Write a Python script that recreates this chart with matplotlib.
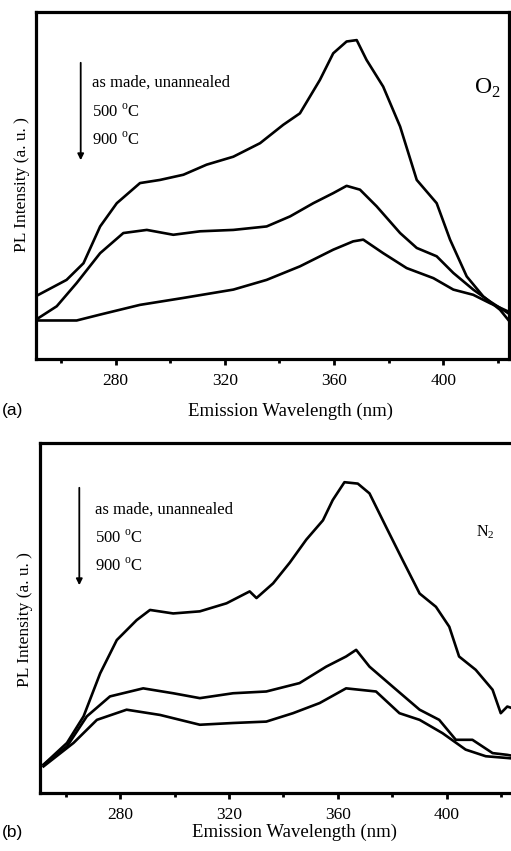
import numpy as np
import matplotlib
matplotlib.use("Agg")
import matplotlib.pyplot as plt

plt.rcParams['font.family'] = ['Liberation Serif', 'DejaVu Serif']
plt.rcParams['mathtext.fontset'] = 'custom'
plt.rcParams['mathtext.rm'] = 'Liberation Serif'

# --- panel (a): O2 anneal ---------------------------------------------------
a_made_x = [251.7, 262, 268.2, 274.3, 280.4, 288.9, 296.2, 304.8, 313.3, 323.1, 332.9,
            341.4, 347.5, 354.8, 359.7, 364.6, 368.3, 371.9, 378, 384.2, 390.3, 397.6,
            402.5, 408.6, 414.7, 420.8, 423.8]
a_made_y = [0.185, 0.228, 0.276, 0.382, 0.449, 0.507, 0.516, 0.531, 0.56, 0.583, 0.622,
            0.675, 0.708, 0.804, 0.881, 0.915, 0.919, 0.862, 0.785, 0.670, 0.516, 0.449,
            0.344, 0.238, 0.180, 0.142, 0.113]
a_500_x = [251.7, 258.4, 265.7, 274.3, 282.8, 291.4, 301.1, 310.9, 323.1, 335.3, 343.9,
           352.4, 359.7, 364.6, 369.5, 375.6, 384.2, 390.3, 397.6, 403.7, 411, 417.1, 423.8]
a_500_y = [0.118, 0.152, 0.219, 0.305, 0.363, 0.372, 0.358, 0.368, 0.372, 0.382, 0.411,
           0.449, 0.478, 0.499, 0.488, 0.44, 0.363, 0.320, 0.296, 0.248, 0.2, 0.166, 0.132]
a_900_x = [251.7, 265.7, 274.3, 288.9, 304.8, 323.1, 335.3, 347.5, 359.7, 367, 370.7,
           378, 386.6, 396.4, 403.7, 411, 417.1, 423.8]
a_900_y = [0.111, 0.111, 0.128, 0.156, 0.176, 0.2, 0.228, 0.267, 0.315, 0.339, 0.344,
           0.305, 0.262, 0.233, 0.2, 0.185, 0.161, 0.137]

# --- panel (b): N2 anneal ---------------------------------------------------
b_made_x = [251.9, 260.5, 266.6, 272.7, 278.8, 286.1, 291, 299.5, 309.3, 319.1, 327.6,
            330.1, 336.2, 342.3, 348.4, 354.5, 358.1, 362.4, 367.3, 371.6, 377.7, 383.8,
            390, 396, 400.9, 404.5, 410.6, 416.8, 419.8, 422.2, 425]
b_made_y = [0.081, 0.143, 0.219, 0.342, 0.437, 0.494, 0.523, 0.513, 0.519, 0.542, 0.576,
            0.557, 0.599, 0.658, 0.724, 0.779, 0.837, 0.888, 0.884, 0.856, 0.76, 0.665,
            0.570, 0.532, 0.475, 0.390, 0.352, 0.295, 0.228, 0.247, 0.24]
b_500_x = [251.9, 260.5, 267.8, 276.3, 288.5, 299.5, 309.3, 321.5, 333.7, 345.9, 355.7,
           363, 366.7, 371.6, 380.1, 390, 397.2, 403.3, 409.4, 416.8, 422.2, 425]
b_500_y = [0.081, 0.133, 0.219, 0.276, 0.299, 0.285, 0.271, 0.285, 0.29, 0.314, 0.361,
           0.390, 0.409, 0.361, 0.304, 0.238, 0.209, 0.152, 0.152, 0.114, 0.109, 0.105]
b_900_x = [251.9, 262.9, 271.5, 282.4, 294.7, 309.3, 321.5, 333.7, 343.5, 353.3, 363,
           367.9, 374, 382.6, 390, 398.4, 406.9, 414.3, 422.2, 425]
b_900_y = [0.076, 0.143, 0.209, 0.238, 0.223, 0.195, 0.2, 0.204, 0.228, 0.257, 0.299,
           0.295, 0.29, 0.228, 0.209, 0.171, 0.124, 0.105, 0.1, 0.098]

major_ticks = [280, 320, 360, 400]
minor_ticks = [260, 300, 340, 380, 420]
legend_lines = ["as made, unannealed", "500 $^{\\mathrm{o}}$C", "900 $^{\\mathrm{o}}$C"]

W, H = 511, 851
fig = plt.figure(figsize=(W / 100, H / 100), dpi=100)


def px_axes(left, top, right, bottom):
    return fig.add_axes([left / W, 1 - bottom / H, (right - left) / W, (bottom - top) / H])


def style_axes(ax, xlim):
    ax.set_xlim(*xlim)
    ax.set_ylim(0, 1)
    ax.set_yticks([])
    ax.set_xticks(major_ticks)
    ax.set_xticks(minor_ticks, minor=True)
    ax.tick_params(axis='x', which='major', direction='out', length=4, width=2,
                   labelsize=12.5, pad=6)
    ax.tick_params(axis='x', which='minor', direction='out', length=3, width=2)
    for s in ax.spines.values():
        s.set_linewidth(2.3)


def draw_panel(ax, curves, ytext, arrow_x, arrow_top, arrow_bot, text_x):
    for x, y in curves:
        ax.plot(x, y, color='black', lw=1.9, solid_joinstyle='round')
    ax.annotate("", xy=(arrow_x, arrow_bot), xytext=(arrow_x, arrow_top),
                xycoords='figure pixels', textcoords='figure pixels',
                arrowprops=dict(arrowstyle='-|>', color='black', lw=1.3,
                                mutation_scale=9))
    for t, yy in zip(legend_lines, ytext):
        fig.text(text_x / W, 1 - yy / H, t, fontsize=12, va='center', ha='left')


# panel (a)
ax1 = px_axes(36, 12, 509, 359)
style_axes(ax1, (250.8, 424.1))
draw_panel(ax1, [(a_made_x, a_made_y), (a_500_x, a_500_y), (a_900_x, a_900_y)],
           [83, 112, 140], 80.7, H - 60, H - 163, 92)
ax1.text(0.955, 0.78, "O$_2$", transform=ax1.transAxes, fontsize=17, ha='center', va='center')
fig.text(22 / W, 1 - 185 / H, "PL Intensity (a. u. )", rotation=90, fontsize=12.5,
         ha='center', va='center')
fig.text(290 / W, 1 - 411 / H, "Emission Wavelength (nm)", fontsize=13.5,
         ha='center', va='center')
fig.text(2 / W, 1 - 410 / H, "(a)", fontsize=12.5, family='Liberation Sans',
         ha='left', va='center')

# panel (b)
ax2 = px_axes(40, 443, 516, 793)
style_axes(ax2, (250.6, 425.4))
draw_panel(ax2, [(b_made_x, b_made_y), (b_500_x, b_500_y), (b_900_x, b_900_y)],
           [510, 538, 566], 79.3, H - 485, H - 588, 95)
ax2.text(0.935, 0.745, "N$_2$", transform=ax2.transAxes, fontsize=11.5, ha='center', va='center')
fig.text(25 / W, 1 - 620 / H, "PL Intensity (a. u. )", rotation=90, fontsize=12.5,
         ha='center', va='center')
fig.text(294 / W, 1 - 832 / H, "Emission Wavelength (nm)", fontsize=13.5,
         ha='center', va='center')
fig.text(2 / W, 1 - 832 / H, "(b)", fontsize=12.5, family='Liberation Sans',
         ha='left', va='center')

fig.savefig("out.png", dpi=100)
